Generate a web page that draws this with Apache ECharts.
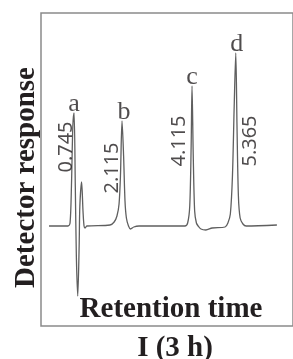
<!DOCTYPE html>
<html><head><meta charset="utf-8">
<script src="https://cdn.jsdelivr.net/npm/echarts@6/dist/echarts.min.js"></script>
<style>html,body{margin:0;padding:0;background:#fff}#c{width:293px;height:359px}</style>
</head><body><div id="c"></div>
<script>
// chromatogram trace: retention time (min) vs detector response (arbitrary units)
var traceTime = [0.03,0.57,0.63,0.67,0.71,0.745,0.78,0.81,0.85,0.89,0.91,0.96,1.00,1.03,1.06,1.11,
  1.77,1.89,1.97,2.03,2.07,2.115,2.16,2.20,2.24,2.30,2.36,2.45,2.60,
  3.91,3.99,4.05,4.09,4.115,4.15,4.19,4.24,4.29,4.37,4.51,4.69,5.06,5.14,5.21,5.27,5.32,5.365,5.40,5.44,5.49,5.57,5.66,6.54];
var traceResp = [0,0,3,40,100,113,40,-30,-70,-20,20,44,15,0,-2,0,
  1,4,10,22,50,105,70,25,8,0,-3,-1,0,
  0,3,20,80,140,70,15,3,0,-3,-4,-2,-1,3,12,50,120,173,100,30,8,2,0,1];
// peaks
var peakNames = ['a','b','c','d'];
var peakTimes = [0.745, 2.115, 4.115, 5.365];
var peakHeights = [113, 105, 140, 173];
var peakLabels = ['0.745','2.115','4.115','5.365'];
var xTitle = 'Retention time';
var yTitle = 'Detector response';
var caption = 'I (3 h)';

// screen offsets (dx, dy) of the rotated retention-time labels from each peak top
var numOffsets = [[-8,34],[-10,47],[-13,55],[15,88]];
var letterOffsets = [[0,0],[2,0],[0,0],[1,0]];

var trace = traceTime.map(function(t,i){return [t, traceResp[i]];});
var letters = peakTimes.map(function(t,i){
  return {value:[t,peakHeights[i]], label:{formatter:peakNames[i], offset:letterOffsets[i]}};
});
var nums = peakTimes.map(function(t,i){
  var o = numOffsets[i];
  // label is rotated 90deg, so its offset is given in the rotated frame
  return {value:[t,peakHeights[i]], label:{formatter:peakLabels[i], offset:[-o[1], o[0]]}};
});

var chart = echarts.init(document.getElementById('c'), null, {renderer:'canvas'});
chart.setOption({
  animation:false,
  backgroundColor:'#fff',
  title:{text:caption, left:170, top:329, textAlign:'center',
    textStyle:{fontFamily:'Liberation Serif', fontWeight:'bold', fontSize:29, color:'#231f20'}},
  grid:{left:41, right:-2, top:13, bottom:33, show:true, borderColor:'#8a8a8a', borderWidth:1.5, backgroundColor:'transparent'},
  xAxis:{type:'value', min:-0.2, max:7.0, show:true,
    axisLine:{show:false}, axisTick:{show:false}, axisLabel:{show:false}, splitLine:{show:false},
    name:xTitle, nameLocation:'middle', nameGap:-31,
    nameTextStyle:{fontFamily:'Liberation Serif', fontWeight:'bold', fontSize:29, color:'#231f20', padding:[0,0,0,8]}},
  yAxis:{type:'value', min:-100, max:213,
    axisLine:{show:false}, axisTick:{show:false}, axisLabel:{show:false}, splitLine:{show:false},
    name:yTitle, nameLocation:'middle', nameGap:0,
    nameTextStyle:{fontFamily:'Liberation Serif', fontWeight:'bold', fontSize:29, color:'#231f20', padding:[0,16,0,0]}},
  series:[
    {type:'line', data:trace, showSymbol:false, smooth:0.3, lineStyle:{color:'#5f5f5f', width:1.3}, z:2},
    {type:'scatter', data:letters, symbolSize:0, z:3,
      label:{show:true, position:'top', distance:-4, fontFamily:'Liberation Serif', fontSize:26, color:'#231f20'}},
    {type:'scatter', data:nums, symbolSize:0, z:3,
      label:{show:true, position:'inside', rotate:90, align:'center', verticalAlign:'middle',
        fontFamily:'Noto Sans', fontSize:20, color:'#231f20'}}
  ]
});
</script></body></html>
